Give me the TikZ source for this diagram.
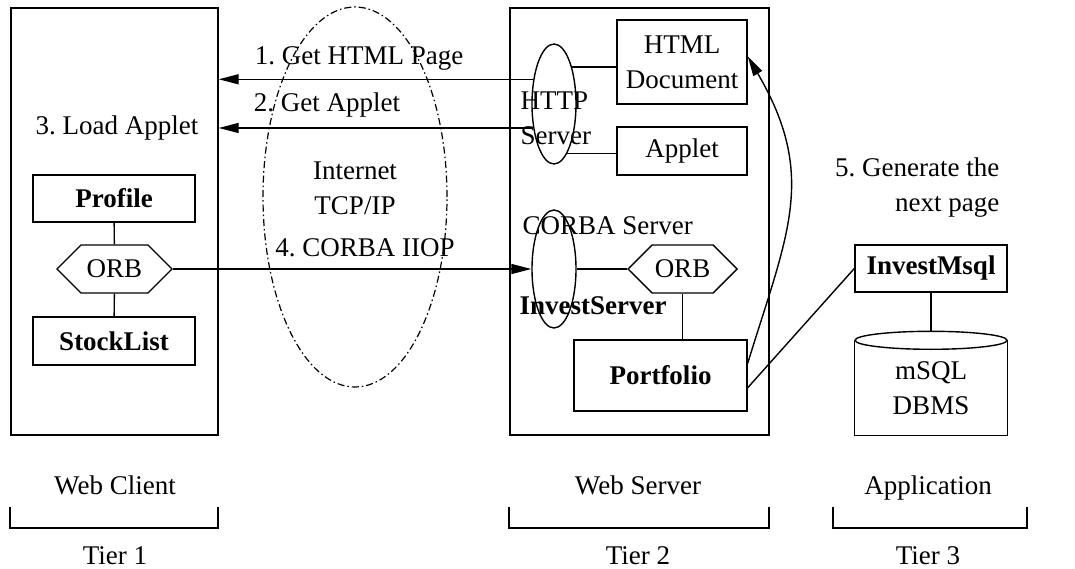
\documentclass[tikz,border=0pt]{standalone}
\usepackage{fontspec}
\setmainfont{Liberation Serif}
\usepackage{tikz}
\usetikzlibrary{shapes, shapes.symbols, arrows.meta, positioning}
\frenchspacing

\begin{document}
\begin{tikzpicture}[x=1pt, y=-1pt, line width=1.4pt,
    font=\fontsize{27}{35}\selectfont, >={Triangle[length=20pt,width=10pt]},
    every node/.style={inner sep=0pt},
    tier/.style={draw, rectangle},
    comp/.style={draw, rectangle, font=\fontsize{27}{35}\selectfont\bfseries},
    doc/.style={draw, rectangle, align=center},
    orb/.style={draw, signal, signal to=east and west, signal pointer angle=90,
      minimum height=48pt},
    srv/.style={draw, ellipse, minimum width=44pt, minimum height=120pt},
    net/.style={draw, ellipse, line width=1.2pt, dash pattern=on 7pt off 3pt on 1.5pt off 3pt},
    brack/.style={line width=2.2pt}]
  \useasboundingbox (0,0) rectangle (1075,569);

  % tiers
  \node[tier, minimum width=207pt, minimum height=427pt] (client) at (114.5,221.5) {};
  \node[tier, minimum width=259pt, minimum height=427pt] (server) at (639.5,221.5) {};
  \node[net, minimum width=184pt, minimum height=380pt] (inet) at (355,197) {};

  % web client
  \node[comp, minimum width=162pt, minimum height=47pt] (profile) at (114,198.5) {Profile};
  \node[orb, minimum width=115pt] (orbl) at (114.5,269) {ORB};
  \node[comp, minimum width=162pt, minimum height=48pt] (stocklist) at (114,341) {StockList};

  % web server
  \node[srv] (httpsrv) at (554,104) {};
  \node[doc, minimum width=130pt, minimum height=84pt] (html) at (682,62) {HTML\\Document};
  \node[doc, minimum width=130pt, minimum height=48pt] (applet) at (682,151) {Applet};
  \node[srv, minimum height=118pt] (corba) at (554,269) {};
  \node[orb, minimum width=109pt] (orbr) at (682.5,269) {ORB};
  \node[comp, minimum width=173pt, minimum height=71pt] (portfolio) at (660.5,375.5) {Portfolio};

  % application
  \node[comp, minimum width=152pt, minimum height=47pt] (msql) at (931,268.5) {InvestMsql};
  \node[align=center, minimum width=152pt, minimum height=94pt] (db) at (931,388) {mSQL\\DBMS};
  \coordinate (dbtop) at (931,332);
  \draw (db.north west) -- (db.south west) -- (db.south east) -- (db.north east);
  \draw (db.north) ellipse (76 and 9);

  % labels
  \node (get1) at (359,58) {1. Get HTML Page};
  \node (get2) at (327,105) {2. Get Applet};
  \node (load) at (117,128) {3. Load Applet};
  \node[align=center] (tcp) at (355,188) {Internet\\TCP/IP};
  \node (iiop) at (365,248) {4. CORBA IIOP};
  \node[align=left, anchor=west] (httplbl) at (520,118) {HTTP\\Server};
  \node[anchor=west] (corbalbl) at (522,226) {CORBA Server};
  \node[anchor=west, font=\fontsize{27}{35}\selectfont\bfseries] (invest) at (519,306) {InvestServer};
  \node[align=right, anchor=east] (gen) at (1000,188) {5. Generate the\\next page};

  % connectors
  \draw[->] (httpsrv.130) -- (httpsrv.130 -| client.east);
  \draw[->] (httpsrv.229) -- (httpsrv.229 -| client.east);
  \draw (httpsrv.64) -- (httpsrv.64 -| html.west);
  \draw (httpsrv.285) -- (httpsrv.285 -| applet.west);
  \draw (profile) -- (orbl);
  \draw (orbl) -- (stocklist);
  \draw[->] (orbl.east) -- (corba.west);
  \draw (corba.east) -- (orbr.west);
  \draw (orbr.south) -- (orbr.south |- portfolio.north);
  \draw[->] (portfolio.8) .. controls +(40,-130) and +(70,120) .. (html.5);
  \draw (portfolio.352) -- (msql.west);
  \draw (msql.south) -- (dbtop);

  % tier names
  \node (wc) at (115,485) {Web Client};
  \node (ws) at (638,485) {Web Server};
  \node (app) at (928,488) {Application};
  \draw[brack] (10,507) -- (10,528) -- (218,528) -- (218,507);
  \draw[brack] (509,507) -- (509,528) -- (769,528) -- (769,507);
  \draw[brack] (833,507) -- (833,528) -- (1027,528) -- (1027,507);
  \node (t1) at (115,556) {Tier 1};
  \node (t2) at (638,556) {Tier 2};
  \node (t3) at (928,556) {Tier 3};
\end{tikzpicture}
\end{document}
